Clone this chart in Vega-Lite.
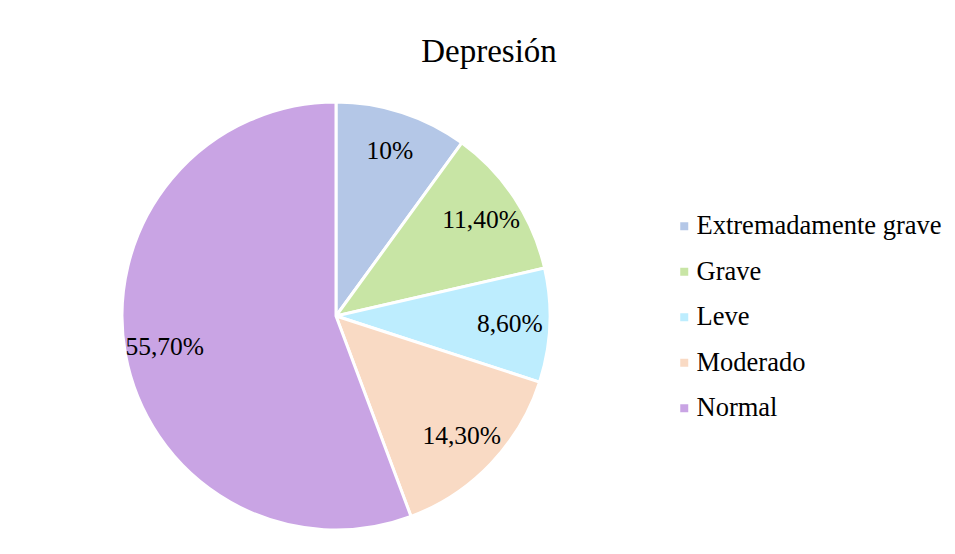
{
  "$schema": "https://vega.github.io/schema/vega-lite/v6.json",
  "width": 672,
  "height": 472,
  "autosize": {"type": "none"},
  "padding": {"left": 0, "top": 80, "right": 283, "bottom": 2},
  "background": "white",
  "config": {
    "view": {"stroke": null},
    "font": "Liberation Serif"
  },
  "title": {
    "text": "Depresión",
    "font": "Liberation Serif",
    "fontSize": 33,
    "fontWeight": "normal",
    "color": "#000000",
    "anchor": "middle",
    "dx": 153,
    "offset": 11
  },
  "data": {
    "values": [
      {"categoria": "Extremadamente grave", "porcentaje": 10.0, "etiqueta": "10%"},
      {"categoria": "Grave", "porcentaje": 11.4, "etiqueta": "11,40%"},
      {"categoria": "Leve", "porcentaje": 8.6, "etiqueta": "8,60%"},
      {"categoria": "Moderado", "porcentaje": 14.3, "etiqueta": "14,30%"},
      {"categoria": "Normal", "porcentaje": 55.7, "etiqueta": "55,70%"}
    ]
  },
  "encoding": {
    "theta": {"field": "porcentaje", "type": "quantitative", "stack": true},
    "order": {"field": "categoria", "type": "nominal", "sort": "ascending"},
    "color": {
      "field": "categoria",
      "type": "nominal",
      "scale": {
        "domain": ["Extremadamente grave", "Grave", "Leve", "Moderado", "Normal"],
        "range": ["#b4c7e7", "#c8e5a5", "#bdedfe", "#f9dac4", "#c9a4e4"]
      },
      "legend": {
        "title": null,
        "orient": "none",
        "legendX": 671,
        "legendY": 133,
        "symbolType": "square",
        "symbolSize": 64,
        "symbolStrokeWidth": 0,
        "labelFont": "Liberation Serif",
        "labelFontSize": 26.5,
        "labelColor": "#000000",
        "labelOffset": -1,
        "rowPadding": 18.5,
        "labelLimit": 400
      }
    }
  },
  "layer": [
    {
      "mark": {"type": "arc", "outerRadius": 214, "stroke": "white", "strokeWidth": 3}
    },
    {
      "mark": {"type": "text", "radius": 174, "font": "Liberation Serif", "fontSize": 25.5, "color": "#000000"},
      "encoding": {
        "text": {"field": "etiqueta", "type": "nominal"},
        "color": {"value": "#000000"}
      }
    }
  ]
}
